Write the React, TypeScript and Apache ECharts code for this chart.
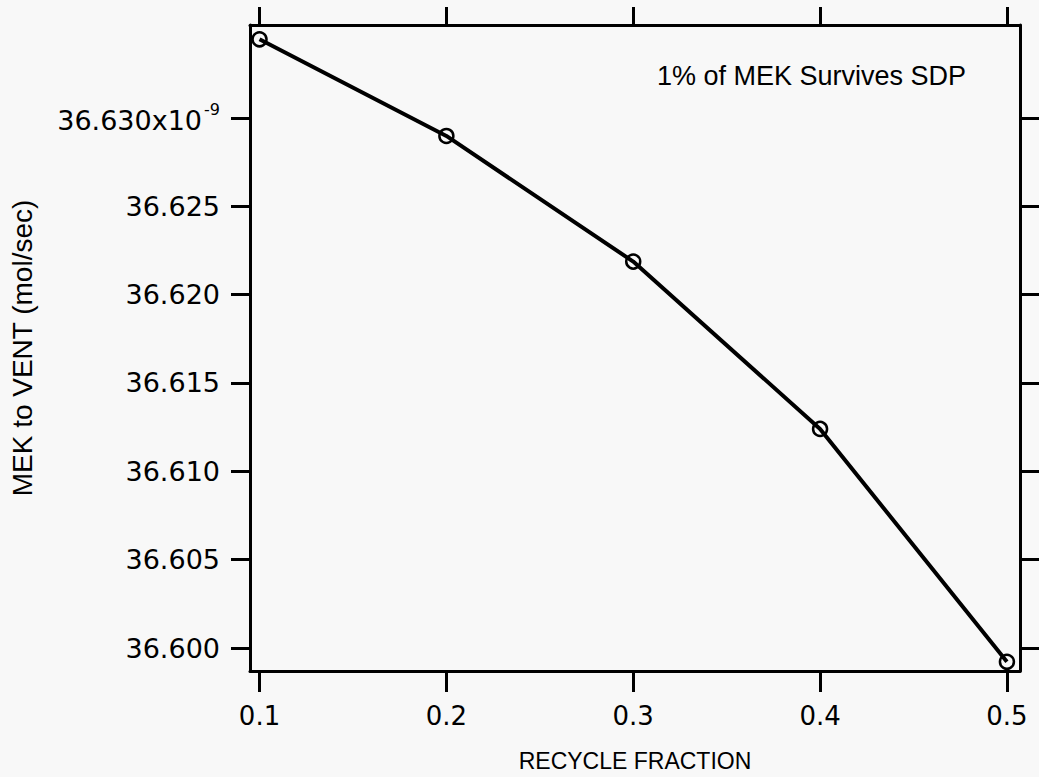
import React, { useEffect, useRef } from "react";
import * as echarts from "echarts";

const recycleFraction = [0.1, 0.2, 0.3, 0.4, 0.5];
// MEK to vent, in units of 1e-9 mol/sec
const mekToVent = [36.63445, 36.62898, 36.62187, 36.6124, 36.59922];
const xTicks = [0.1, 0.2, 0.3, 0.4, 0.5];
const yTicks = [36.6, 36.605, 36.61, 36.615, 36.62, 36.625, 36.63];
const annotation = "1% of MEK Survives SDP";

export default function App() {
  const ref = useRef<HTMLDivElement>(null);
  useEffect(() => {
    if (!ref.current) return;
    const chart = echarts.init(ref.current, undefined, { renderer: "svg" });
    const xMin = 0.0949, xMax = 0.507;
    const yMin = 36.5987, yMax = 36.63526;
    const axisLine = { show: true, lineStyle: { color: "#000", width: 3 } };
    const tickFont = "DejaVu Sans";
    chart.setOption({
      animation: false,
      backgroundColor: "#f8f8f8",
      grid: { left: 250, top: 25, right: 19, bottom: 106, containLabel: false, outerBoundsMode: "none" },
      xAxis: [
        {
          type: "value", min: xMin, max: xMax, position: "bottom",
          name: "RECYCLE FRACTION", nameLocation: "middle", nameGap: 78,
          nameTextStyle: { fontFamily: "Liberation Sans", fontSize: 23, color: "#000" },
          axisLine,
          axisTick: { show: true, customValues: xTicks, length: 21, lineStyle: { color: "#000", width: 3 } },
          axisLabel: {
            customValues: xTicks, margin: 32, fontFamily: tickFont, fontSize: 26, color: "#000",
            formatter: (v: number) => v.toFixed(1),
          },
          splitLine: { show: false },
        },
        {
          type: "value", min: xMin, max: xMax, position: "top",
          axisLine,
          axisTick: { show: true, customValues: xTicks, length: 18, lineStyle: { color: "#000", width: 3 } },
          axisLabel: { show: false },
          splitLine: { show: false },
        },
      ],
      yAxis: [
        {
          type: "value", min: yMin, max: yMax, position: "left",
          name: "MEK to VENT (mol/sec)", nameLocation: "middle", nameGap: 214, nameRotate: 90,
          nameTextStyle: { fontFamily: "Liberation Sans", fontSize: 28, color: "#000" },
          axisLine,
          axisTick: { show: true, customValues: yTicks, length: 19, lineStyle: { color: "#000", width: 3 } },
          axisLabel: {
            customValues: yTicks, margin: 30, fontFamily: tickFont, fontSize: 27, color: "#000",
            formatter: (v: number) =>
              Math.abs(v - 36.63) < 1e-6 ? "{a|" + v.toFixed(3) + "x10}{b|-9}" : v.toFixed(3),
            rich: {
              a: { fontFamily: tickFont, fontSize: 27, color: "#000", lineHeight: 32, verticalAlign: "bottom" },
              b: { fontFamily: tickFont, fontSize: 16, color: "#000", verticalAlign: "top", padding: [0, 0, 0, 2] },
            },
          },
          splitLine: { show: false },
        },
        {
          type: "value", min: yMin, max: yMax, position: "right",
          axisLine,
          axisTick: { show: true, customValues: yTicks, length: 20, lineStyle: { color: "#000", width: 3 } },
          axisLabel: { show: false },
          splitLine: { show: false },
        },
      ],
      graphic: [
        {
          type: "text", left: 657, top: 62,
          style: { text: annotation, fontFamily: "Liberation Sans", fontSize: 27, fill: "#000" },
        },
      ],
      series: [
        {
          type: "line",
          xAxisIndex: 0, yAxisIndex: 0,
          data: recycleFraction.map((x, i) => [x, mekToVent[i]]),
          symbol: "circle", symbolSize: 14,
          lineStyle: { color: "#000", width: 4 },
          itemStyle: { color: "transparent", borderColor: "#000", borderWidth: 2.5 },
          emphasis: { disabled: true },
          z: 5,
        },
      ],
    });
    return () => chart.dispose();
  }, []);
  return <div ref={ref} style={{ position: "fixed", left: 0, top: 0, width: 1039, height: 777 }} />;
}
